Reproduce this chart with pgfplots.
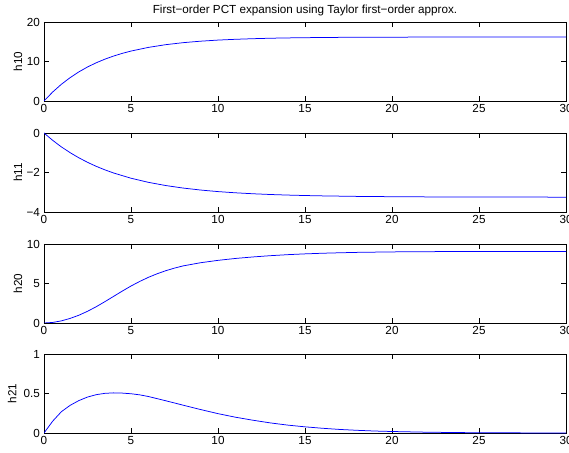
\documentclass[border=0pt]{standalone}
\usepackage{fontspec}
\setmainfont{Liberation Sans}
\usepackage{pgfplots}
\usepackage{pgfplotstable}
\pgfplotsset{compat=1.18}

% Coefficient trajectories of the first-order PCT expansion
\pgfplotstableread{
t     h10
0     0
0.5   2.28
1     4.23
1.5   5.91
2     7.36
2.5   8.61
3     9.67
3.5   10.59
4     11.38
4.5   12.06
5     12.64
6     13.57
7     14.26
8     14.77
9     15.14
10    15.42
11    15.62
12    15.77
13    15.89
14    15.97
15    16.03
16    16.07
17    16.11
18    16.13
20    16.16
22    16.18
25    16.19
30    16.20
}\hten

\pgfplotstableread{
t     h11
0     0
0.5   -0.373
1     -0.704
1.5   -0.996
2     -1.254
2.5   -1.484
3     -1.687
3.5   -1.866
4     -2.025
5     -2.290
6     -2.498
7     -2.661
8     -2.788
9     -2.888
10    -2.967
11    -3.028
12    -3.076
13    -3.114
14    -3.143
15    -3.166
16    -3.184
18    -3.210
20    -3.225
22    -3.235
25    -3.243
30    -3.248
}\heleven

\pgfplotstableread{
t     h20
0     0
0.5   0.07
1     0.27
1.5   0.58
2     0.98
2.5   1.48
3     2.06
3.5   2.70
4     3.37
4.5   4.04
5     4.68
5.5   5.26
6     5.78
6.5   6.23
7     6.62
7.5   6.95
8     7.23
9     7.63
10    7.93
11    8.17
12    8.36
13    8.52
14    8.65
15    8.75
16    8.83
17    8.89
18    8.94
19    8.97
20    9.00
22    9.03
24    9.05
26    9.06
30    9.06
}\htwenty

\pgfplotstableread{
t     h21
0     0
0.5   0.15
1     0.27
1.5   0.35
2     0.41
2.5   0.455
3     0.485
3.5   0.502
4     0.508
4.5   0.505
5     0.497
5.5   0.483
6     0.462
7     0.408
8     0.352
9     0.297
10    0.245
11    0.200
12    0.162
13    0.128
14    0.100
15    0.078
16    0.060
17    0.045
18    0.034
19    0.025
20    0.019
22    0.010
24    0.005
26    0.0025
28    0.0012
30    0.0006
}\htwentyone

\newcommand{\lblfont}{\fontsize{11.7}{14}\selectfont}

\pgfplotsset{
  panel/.style={
    scale only axis,
    width=522pt, height=79pt,
    anchor=south west,
    xmin=0, xmax=30,
    xtick={0,5,...,30},
    tick align=inside,
    major tick length=5pt,
    every tick/.style={black, line width=0.5pt},
    axis line style={line width=0.6pt},
    /pgf/number format/assume math mode=true,
    tick label style={font=\lblfont},
    yticklabel style={xshift=-0.5pt},
    label style={font=\lblfont},
    ylabel style={at={(axis description cs:-0.05,0.5)}, anchor=center},
  },
  curve/.style={blue, line width=0.75pt, mark=none},
}

\begin{document}
\begin{tikzpicture}[x=1pt, y=1pt]
\useasboundingbox (0,0) rectangle (569,452);

\begin{axis}[panel, at={(44pt,351pt)},
  ymin=0, ymax=20, ytick={0,10,20}, ylabel={h10},
  title={First−order PCT expansion using Taylor first−order approx.},
  title style={font=\lblfont, at={(0.5,1)}, anchor=base, yshift=2.7pt}]
  \addplot[curve] table[x=t, y=h10] {\hten};
\end{axis}

\begin{axis}[panel, at={(44pt,240pt)},
  ymin=-4, ymax=0, ytick={-4,-2,0}, yticklabels={−4,−2,0}, ylabel={h11}]
  \addplot[curve] table[x=t, y=h11] {\heleven};
\end{axis}

\begin{axis}[panel, at={(44pt,129pt)},
  ymin=0, ymax=10, ytick={0,5,10}, ylabel={h20}]
  \addplot[curve] table[x=t, y=h20] {\htwenty};
\end{axis}

\begin{axis}[panel, at={(44pt,19pt)},
  ymin=0, ymax=1, ytick={0,0.5,1}, ylabel={h21},
  ylabel style={at={(axis description cs:-0.061,0.5)}}]
  \addplot[curve] table[x=t, y=h21] {\htwentyone};
\end{axis}
\end{tikzpicture}
\end{document}
